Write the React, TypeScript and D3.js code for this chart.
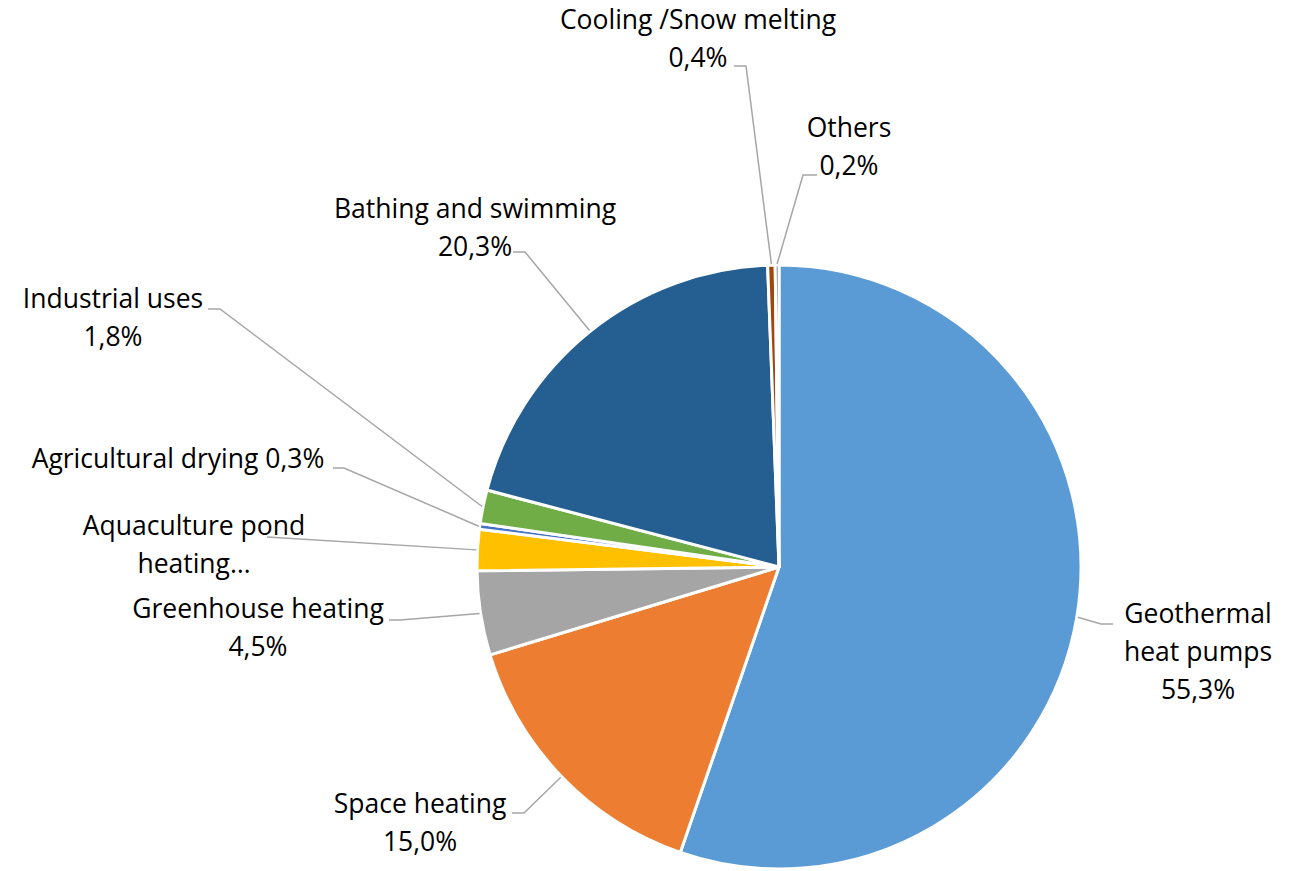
import React from "react";
import * as d3 from "d3";

const categories = [
  "Geothermal heat pumps",
  "Space heating",
  "Greenhouse heating",
  "Aquaculture pond heating",
  "Agricultural drying",
  "Industrial uses",
  "Bathing and swimming",
  "Cooling /Snow melting",
  "Others",
];
const values = [55.3, 15.0, 4.5, 2.2, 0.3, 1.8, 20.3, 0.4, 0.2];
const labelLines = [
  ["Geothermal", "heat pumps", "55,3%"],
  ["Space heating", "15,0%"],
  ["Greenhouse heating", "4,5%"],
  ["Aquaculture pond", "heating…"],
  ["Agricultural drying 0,3%"],
  ["Industrial uses", "1,8%"],
  ["Bathing and swimming", "20,3%"],
  ["Cooling /Snow melting", "0,4%"],
  ["Others", "0,2%"],
];
const colors = ["#5B9BD5", "#ED7D31", "#A5A5A5", "#FFC000", "#4472C4", "#70AD47", "#255E91", "#9E480E", "#636363"];

// label layout: text center x, first baseline y, elbow (ex,ey), horizontal end hx
const layout = [
  { tx: 1198, ty: 623, ex: 1101, ey: 624, hx: 1113 },
  { tx: 420, ty: 813, ex: 524, ey: 813, hx: 512 },
  { tx: 258, ty: 618, ex: 400, ey: 620, hx: 389 },
  { tx: 194, ty: 535, ex: 267, ey: 537, hx: 267 },
  { tx: 178, ty: 468, ex: 344, ey: 468, hx: 333 },
  { tx: 113, ty: 308, ex: 220, ey: 309, hx: 208 },
  { tx: 475, ty: 218, ex: 525, ey: 252, hx: 513 },
  { tx: 698, ty: 29, ex: 746, ey: 66, hx: 734 },
  { tx: 849, ty: 137, ex: 803, ey: 175, hx: 817 },
];

export default function App() {
  const width = 1293;
  const height = 871;
  const cx = 779;
  const cy = 567;
  const r = 302;
  const lineH = 38;

  const data = categories.map((c, i) => ({ name: c, value: values[i], i }));
  const pie = d3.pie<any>().value((d) => d.value).sort(null);
  const arcs = pie(data);
  const arcGen = d3.arc<any>().innerRadius(0).outerRadius(r);

  return (
    <svg
      width={width}
      height={height}
      style={{ position: "absolute", left: 0, top: 0, background: "#fff" }}
      fontFamily="'Open Sans', sans-serif"
    >
      <g transform={`translate(${cx},${cy})`}>
        {arcs.map((a, i) => (
          <path key={i} d={arcGen(a) || ""} fill={colors[i]} stroke="#fff" strokeWidth={3} strokeLinejoin="round" />
        ))}
      </g>
      {arcs.map((a, i) => {
        const mid = (a.startAngle + a.endAngle) / 2;
        const sx = cx + (r + 1) * Math.sin(mid);
        const sy = cy - (r + 1) * Math.cos(mid);
        const L = layout[i];
        return (
          <polyline
            key={"l" + i}
            points={`${sx},${sy} ${L.ex},${L.ey} ${L.hx},${L.ey}`}
            fill="none"
            stroke="#A6A6A6"
            strokeWidth={1.5}
          />
        );
      })}
      {labelLines.map((lines, i) => {
        const L = layout[i];
        return (
          <text key={"t" + i} x={L.tx} y={L.ty} textAnchor="middle" fontSize={26.5} fill="#000">
            {lines.map((ln, j) => (
              <tspan key={j} x={L.tx} y={L.ty + j * lineH}>
                {ln}
              </tspan>
            ))}
          </text>
        );
      })}
    </svg>
  );
}
